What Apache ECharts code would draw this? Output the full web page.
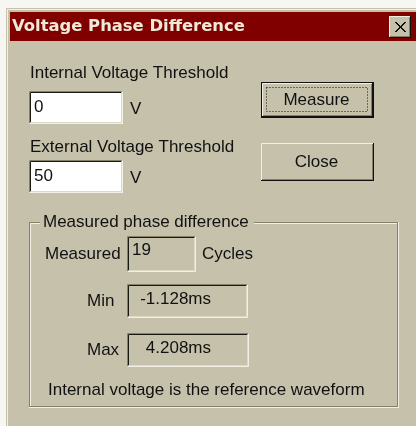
<!DOCTYPE html>
<html>
<head>
<meta charset="utf-8">
<script src="https://cdn.jsdelivr.net/npm/echarts@6/dist/echarts.min.js"></script>
<style>
  html, body { margin: 0; padding: 0; background: #f6f6f2; }
  #main { width: 416px; height: 426px; }
</style>
</head>
<body>
<div id="main"></div>
<script>
// dialog content
const titleText = 'Voltage Phase Difference'
const inputLabels = ['Internal Voltage Threshold', 'External Voltage Threshold']
const inputValues = ['0', '50']
const inputUnit = 'V'
const buttonLabels = ['Measure', 'Close']
const groupTitle = 'Measured phase difference'
const resultLabels = ['Measured', 'Min', 'Max']
const resultValues = ['19', '-1.128ms', '4.208ms']
const cyclesUnit = 'Cycles'
const footNote = 'Internal voltage is the reference waveform'

const BG = '#c5c1aa'
const DARK = '#858169'
const LIGHT = '#f2f0e4'
const FONT = '"Liberation Sans", Arial, sans-serif'
const SIZE = '17px '

const chart = echarts.init(document.getElementById('main'))

const line = (x1, y1, x2, y2, color) => ({
  type: 'line',
  shape: {x1: x1, y1: y1, x2: x2, y2: y2},
  style: {stroke: color, lineWidth: 1}
})

const text = (x, y, str, opts) => ({
  type: 'text',
  x: x, y: y,
  style: Object.assign({
    text: str, fill: '#111', font: SIZE + FONT,
    verticalAlign: 'middle'
  }, opts || {})
})

// sunken edit box
const sunken = (x, y, w, h, fill) => [
  {type: 'rect', shape: {x: x, y: y, width: w, height: h}, style: {fill: fill}},
  line(x + 0.5, y + 0.5, x + w - 0.5, y + 0.5, DARK),
  line(x + 0.5, y + 0.5, x + 0.5, y + h - 0.5, DARK),
  line(x + 1.5, y + 1.5, x + w - 1.5, y + 1.5, '#1a1a14'),
  line(x + 1.5, y + 1.5, x + 1.5, y + h - 1.5, '#1a1a14'),
  line(x + 0.5, y + h - 0.5, x + w - 0.5, y + h - 0.5, LIGHT),
  line(x + w - 0.5, y + 0.5, x + w - 0.5, y + h - 0.5, LIGHT),
  line(x + 1.5, y + h - 1.5, x + w - 1.5, y + h - 1.5, '#dcd9c6'),
  line(x + w - 1.5, y + 1.5, x + w - 1.5, y + h - 1.5, '#dcd9c6')
]

// raised push button
const button = (x, y, w, h, label, isDefault) => {
  const els = []
  if (isDefault) {
    els.push({type: 'rect', shape: {x: x, y: y, width: w, height: h}, style: {fill: '#111'}})
    x += 1; y += 1; w -= 2; h -= 2
  }
  els.push(
    {type: 'rect', shape: {x: x, y: y, width: w, height: h}, style: {fill: BG}},
    line(x + 0.5, y + 0.5, x + w - 1, y + 0.5, LIGHT),
    line(x + 0.5, y + 0.5, x + 0.5, y + h - 1, LIGHT),
    line(x, y + h - 0.5, x + w, y + h - 0.5, '#111'),
    line(x + w - 0.5, y, x + w - 0.5, y + h, '#111'),
    line(x + 1, y + h - 1.5, x + w - 1, y + h - 1.5, DARK),
    line(x + w - 1.5, y + 1, x + w - 1.5, y + h - 1, DARK)
  )
  if (isDefault) {
    els.push({
      type: 'rect',
      shape: {x: x + 4.5, y: y + 4.5, width: w - 10, height: h - 10},
      style: {fill: 'none', stroke: '#111', lineWidth: 1, lineDash: [1, 2]}
    })
  }
  els.push(text(x + w / 2 - 1, y + h / 2, label, {textAlign: 'center'}))
  return els
}

const graphic = []

// window frame and title bar
graphic.push(
  {type: 'rect', shape: {x: 6, y: 8, width: 410, height: 418}, style: {fill: BG}},
  line(7.5, 9, 7.5, 426, LIGHT),
  line(7, 9.5, 416, 9.5, LIGHT),
  {type: 'rect', shape: {x: 10, y: 12, width: 406, height: 29}, style: {fill: '#800000'}},
  text(12, 27, titleText, {fill: '#efe9d8', font: 'bold 16.4px "DejaVu Sans", Verdana, sans-serif'})
)
// title close box
graphic.push(...button(389, 16, 22, 22, '', false))
graphic.push(
  line(395, 22, 405, 32, '#111'), line(396, 22, 406, 32, '#111'),
  line(405, 22, 395, 32, '#111'), line(406, 22, 396, 32, '#111')
)

// threshold inputs
const inputRows = [{labelY: 73, boxY: 91}, {labelY: 147, boxY: 160}]
inputLabels.forEach((lab, i) => {
  const r = inputRows[i]
  graphic.push(text(30, r.labelY, lab))
  graphic.push(...sunken(29, r.boxY, 94, 33, '#fff'))
  graphic.push(text(34, r.boxY + 16, inputValues[i]))
  graphic.push(text(130, r.boxY + 18, inputUnit))
})

// buttons
graphic.push(...button(261, 82, 113, 36, buttonLabels[0], true))
graphic.push(...button(261, 143, 113, 38, buttonLabels[1], false))

// group box
const gx = 29, gy = 222, gr = 399, gb = 408
graphic.push(
  line(gx + 0.5, gy + 0.5, gr - 1, gy + 0.5, DARK),
  line(gx + 0.5, gy + 0.5, gx + 0.5, gb - 1, DARK),
  line(gx + 0.5, gb - 1.5, gr - 1, gb - 1.5, DARK),
  line(gr - 1.5, gy + 0.5, gr - 1.5, gb - 1, DARK),
  line(gx + 1.5, gy + 1.5, gr - 2, gy + 1.5, LIGHT),
  line(gx + 1.5, gy + 1.5, gx + 1.5, gb - 2, LIGHT),
  line(gx, gb - 0.5, gr, gb - 0.5, LIGHT),
  line(gr - 0.5, gy, gr - 0.5, gb, LIGHT),
  {type: 'rect', shape: {x: 40, y: gy - 8, width: 214, height: 16}, style: {fill: BG}},
  text(43, gy, groupTitle)
)

// results
const resultRows = [
  {labelX: 45, boxX: 127, boxY: 236, boxW: 69, boxH: 36},
  {labelX: 87, boxX: 127, boxY: 284, boxW: 121, boxH: 34},
  {labelX: 87, boxX: 127, boxY: 333, boxW: 122, boxH: 34}
]
resultLabels.forEach((lab, i) => {
  const r = resultRows[i]
  const cy = r.boxY + r.boxH / 2
  graphic.push(text(r.labelX, cy, lab))
  graphic.push(...sunken(r.boxX, r.boxY, r.boxW, r.boxH, BG))
  if (i === 0) {
    graphic.push(text(r.boxX + 5, r.boxY + 14, resultValues[i]))
  } else {
    graphic.push(text(211, r.boxY + 15, resultValues[i], {textAlign: 'right'}))
  }
})
graphic.push(text(202, 254, cyclesUnit))
graphic.push(text(48, 390, footNote))

chart.setOption({
  backgroundColor: '#f6f6f2',
  animation: false,
  graphic: graphic
})
</script>
</body>
</html>
